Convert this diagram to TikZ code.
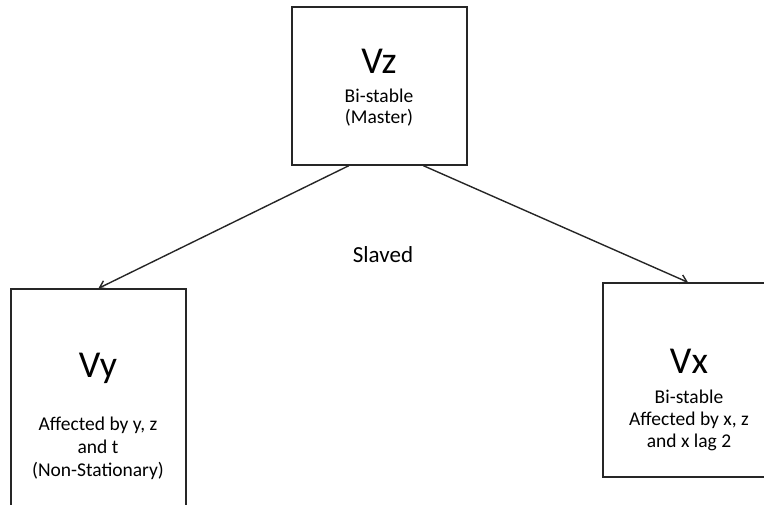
\documentclass[tikz,border=0pt]{standalone}
\usepackage{fontspec}
\setmainfont{Carlito}
\usetikzlibrary{arrows.meta,calc}
\tikzset{
  box/.style={draw=black!85, line width=1.4pt, rectangle, inner sep=0pt},
  big/.style={anchor=base, font=\fontsize{38}{40}\selectfont, inner sep=0pt},
  small/.style={anchor=base, font=\fontsize{19.5}{21}\selectfont, inner sep=0pt},
  mid/.style={anchor=base, font=\fontsize{23}{25}\selectfont, inner sep=0pt},
  link/.style={draw=black!85, line width=1.4pt, -{Straight Barb[angle=70:8pt]}}
}
\begin{document}
\begin{tikzpicture}[x=1pt,y=-1pt]
\useasboundingbox (0,0) rectangle (764,504);
\clip (0,0) rectangle (764,504);
% boxes
\node[box, minimum width=175pt, minimum height=158pt] (vz) at (379.5,86) {};
\node[box, minimum width=175pt, minimum height=241pt] (vy) at (98.5,409.5) {};
\node[box, minimum width=172pt, minimum height=194pt] (vx) at (689,380) {};
% texts
\node[big] (tz) at (379,73) {Vz};
\node[small] (tz1) at (379,102) {Bi-stable};
\node[small] (tz2) at (379,123) {(Master)};
\node[big] (ty) at (98,377) {Vy};
\node[small] (ty1) at (98,430) {Affected by y, z};
\node[small] (ty2) at (98,453) {and t};
\node[small] (ty3) at (98,476) {(Non-Stationary)};
\node[big] (tx) at (689,373) {Vx};
\node[small] (tx1) at (689,403) {Bi-stable};
\node[small] (tx2) at (689,425) {Affected by x, z};
\node[small] (tx3) at (689,447) {and x lag 2};
\node[mid] (sl) at (383,262) {Slaved};
% connectors
\draw[link] ($(vz.south west)!0.326!(vz.south east)$) -- (vy.north);
\draw[link] ($(vz.south west)!0.749!(vz.south east)$) -- ($(vx.north west)!0.494!(vx.north east)$);
\end{tikzpicture}
\end{document}
